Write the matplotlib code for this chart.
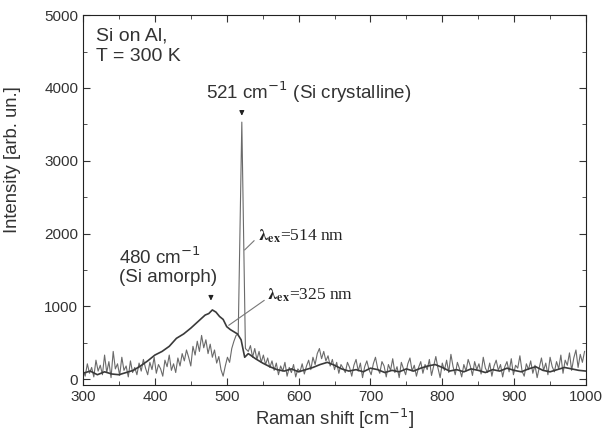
import matplotlib
matplotlib.use("Agg")
import matplotlib.pyplot as plt
from matplotlib.ticker import MultipleLocator

plt.rcParams['font.family'] = ['Liberation Sans', 'DejaVu Sans']

# lambda_ex = 514 nm (noisy trace with the crystalline peak)
x514 = list(range(300, 514, 3)) + [516, 521, 526] + list(range(530, 1001, 3))
y514 = [120, 40, 210, 80, 160, 30, 260, 110, 190, 60, 330, 90, 240, 20, 380, 140,
        210, 50, 300, 120, 180, 30, 250, 90, 160, 60, 220,
        110, 270, 150, 60, 230, 130, 300, 80, 200, 140, 40, 260, 170, 330, 120, 210,
        90, 290, 180, 350,
        250, 400, 300, 180, 450, 330, 520, 380, 600, 430, 540, 350, 480, 300, 400, 220,
        310, 130, 40, 180, 300, 230, 420, 520, 600,
        620, 3530, 420,
        380, 460, 300, 420, 270, 380, 230, 330, 200, 290, 160,
        250, 120, 220, 60, 180, 110, 230, 40, 160, 90, 200, 30, 140,
        100, 210, 70, 180, 260, 130, 300, 200, 350, 420, 280, 380, 250, 320, 180, 270,
        130, 230, 80, 200, 150,
        90, 230, 160, 40, 190, 270, 110, 220, 20, 170, 250, 130, 60, 210,
        300, 150, 80, 240, 180, 30, 200, 120, 280, 90, 170, 20, 230, 140,
        60, 210, 290, 110, 190, 40, 160, 240, 80, 200, 130, 270, 50, 180,
        310, 150, 20, 220, 120, 260, 90, 340, 170, 60, 230, 140, 30, 200,
        110, 270, 180, 50, 240, 130, 210, 70, 300, 150, 90, 220, 40, 180,
        260, 120, 200, 30, 170, 240, 100, 280, 60, 190, 150, 320, 110, 40,
        210, 130, 250, 80, 190, 20, 160, 290, 120, 220, 60, 300, 170, 100,
        240, 140, 330, 80, 260, 190, 360, 120, 290, 400, 160, 340, 230, 380]

# lambda_ex = 325 nm (smoother trace with the amorphous band)
x325 = [300, 310, 320, 330, 340, 350, 360, 370, 380, 390, 400, 410, 420, 430, 440,
        450, 460, 470, 475, 480, 485, 490, 495, 500, 505, 510, 515, 520, 525, 530,
        540, 550, 560, 570, 580, 590, 600, 610, 620, 630, 640, 650, 660, 670, 680,
        690, 700, 710, 720, 730, 740, 750, 760, 770, 780, 790, 800, 810, 820, 830,
        840, 850, 860, 870, 880, 890, 900, 910, 920, 930, 940, 950, 960, 970, 980,
        990, 1000]
y325 = [80, 110, 60, 100, 70, 60, 90, 120, 180, 250, 330, 380, 450, 560, 620,
        700, 790, 880, 900, 950, 920, 860, 820, 720, 680, 650, 620, 540, 300, 350,
        280, 220, 170, 130, 110, 140, 100, 130, 160, 200, 230, 190, 140, 110, 130,
        100, 150, 130, 90, 120, 100, 140, 110, 150, 180, 200, 160, 110, 130, 100,
        140, 120, 90, 130, 110, 150, 120, 100, 140, 170, 120, 100, 130, 160, 140,
        120, 110]

fig = plt.figure(figsize=(6.06, 4.32), dpi=100)
ax = fig.add_axes([0.137, 0.109, 0.830, 0.856])

ax.plot(x514, y514, color='#6a6a6a', lw=0.8)
ax.plot(x325, y325, color='#3a3a3a', lw=1.2)

ax.set_xlim(300, 1000)
ax.set_ylim(-80, 5000)
ax.xaxis.set_major_locator(MultipleLocator(100))
ax.xaxis.set_minor_locator(MultipleLocator(50))
ax.yaxis.set_major_locator(MultipleLocator(1000))
ax.yaxis.set_minor_locator(MultipleLocator(500))
ax.tick_params(which='both', direction='in', top=True, right=True, labelsize=11,
               colors='#333333')
ax.tick_params(which='major', length=5)
ax.tick_params(which='minor', length=3)
for s in ax.spines.values():
    s.set_color('#222222')

ax.set_xlabel('Raman shift [cm$^{-1}$]', fontsize=13.3, color='#333333', labelpad=2)
ax.set_ylabel('Intensity [arb. un.]', fontsize=13.3, color='#333333')
ax.yaxis.set_label_coords(-0.123, 0.61)

txt = '#333333'
ax.text(318, 4570, 'Si on Al,\nT = 300 K', fontsize=14, color=txt, va='center',
        linespacing=1.3)
ax.text(471, 3934, '521 cm$^{-1}$ (Si crystalline)', fontsize=13.5, color=txt,
        ha='left', va='center')
ax.annotate('', xy=(521, 3580), xytext=(521, 3720),
            arrowprops=dict(arrowstyle='-|>', color='#222222', lw=0.8,
                            mutation_scale=7))
ax.text(350, 1550, '480 cm$^{-1}$\n(Si amorph)', fontsize=13.5, color=txt,
        ha='left', va='center', linespacing=1.05)
ax.annotate('', xy=(478, 1040), xytext=(478, 1160),
            arrowprops=dict(arrowstyle='-|>', color='#222222', lw=0.8,
                            mutation_scale=7))

ax.plot([525, 538], [1775, 1900], color='#777777', lw=0.8)
ax.text(543, 1960, r'$\mathbf{\lambda}_{\mathbf{ex}}$=514 nm', fontsize=12.5,
        family=['Liberation Serif', 'DejaVu Serif'], math_fontfamily='stix',
        color='#222222', va='center')
ax.plot([503, 552], [740, 1080], color='#777777', lw=0.8)
ax.text(556, 1150, r'$\mathbf{\lambda}_{\mathbf{ex}}$=325 nm', fontsize=12.5,
        family=['Liberation Serif', 'DejaVu Serif'], math_fontfamily='stix',
        color='#222222', va='center')

fig.savefig('out.png', dpi=100)
